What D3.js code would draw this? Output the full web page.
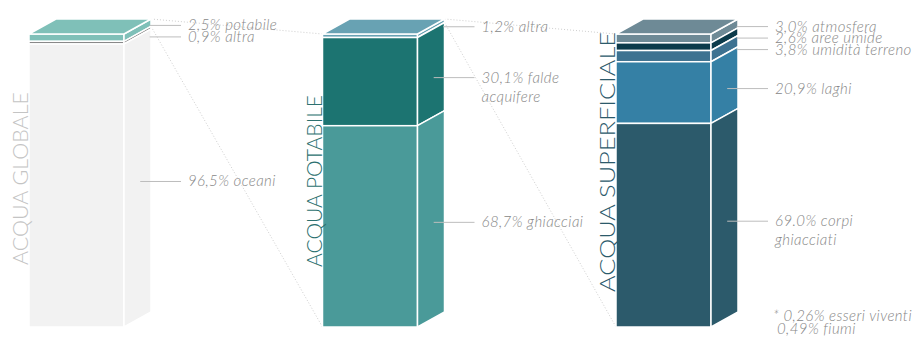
<!DOCTYPE html>
<html lang="it">
<head>
<meta charset="UTF-8">
<title>Acqua</title>
<script src="https://d3js.org/d3.v7.min.js"></script>
<style>
    body { margin: 0; background: #fff; }
    svg { display: block; }
    .label { font-family: "Lato", sans-serif; font-weight: 300; font-style: italic; font-size: 15px; letter-spacing: 0.4px; fill: #878787; }
    .title { font-family: "Lato", sans-serif; font-weight: 300; font-size: 21px; }
</style>
</head>
<body>
<script>
// data
var bars = ['globale', 'potabile', 'superficiale'];
var titles = ['ACQUA GLOBALE', 'ACQUA POTABILE', 'ACQUA SUPERFICIALE'];
var titleColors = ['#c4c4c4', '#2d7170', '#2c5a6b'];

var globaleValues = [2.5, 0.9, 96.5];
var globaleLabels = ['2,5% potabile', '0,9% altra', '96,5% oceani'];
var globaleColors = ['#7fc0b8', '#7f7f7f', '#f2f2f2'];

var potabileValues = [1.2, 30.1, 68.7];
var potabileLabels = ['1,2% altra', '30,1% falde\nacquifere', '68,7% ghiacciai'];
var potabileColors = ['#68a2b3', '#1c7471', '#4a9a99'];

var superficialeValues = [3.0, 2.6, 3.8, 20.9, 69.0];
var superficialeLabels = ['3,0% atmosfera', '2,6% aree umide', '3,8% umidità terreno', '20,9% laghi', '69.0% corpi\nghiacciati'];
var superficialeColors = ['#6e8a96', '#0c3b4b', '#3d7291', '#3580a5', '#2c5a6b'];

var footnote = ['* 0,26% esseri viventi', '0,49% fiumi'];

var series = [
    {values: globaleValues, labels: globaleLabels, colors: globaleColors},
    {values: potabileValues, labels: potabileLabels, colors: potabileColors},
    {values: superficialeValues, labels: superficialeLabels, colors: superficialeColors}
];

// layout
var w = 914, h = 338;
var yTop = 34, yBottom = 327;
var barW = 95, dx = 27, dy = 15;
var titleBottom = [265, 267, 292];
var titleLen = [173, 172, 260];

var svg = d3.select('body').append('svg').attr('width', w).attr('height', h);

var xScale = d3.scalePoint().domain(bars).range([29, 616]);

var gDots = svg.append('g');
var gBars = svg.append('g');
var gLines = svg.append('g');
var gText = svg.append('g');

var stacked = series.map(function(s, bi) {
    var total = d3.sum(s.values);
    var y = d3.scaleLinear().domain([0, total]).range([yTop, yBottom]);
    var acc = 0;
    var x0 = xScale(bars[bi]);
    return s.values.map(function(v, i) {
        var seg = {x0: x0, y0: y(acc), y1: y(acc + v), color: s.colors[i], label: s.labels[i], first: i === 0};
        acc += v;
        return seg;
    });
});

function pts(a) { return a.map(function(p) { return p.join(','); }).join(' '); }

stacked.forEach(function(segs, bi) {
    var g = gBars.append('g');
    segs.forEach(function(s) {
        var x1 = s.x0 + barW;
        g.append('rect')
            .attr('x', s.x0).attr('y', s.y0)
            .attr('width', barW).attr('height', s.y1 - s.y0)
            .attr('fill', s.color).attr('stroke', '#fff').attr('stroke-width', 1.5);
        g.append('polygon')
            .attr('points', pts([[x1, s.y0], [x1 + dx, s.y0 - dy], [x1 + dx, s.y1 - dy], [x1, s.y1]]))
            .attr('fill', s.color).attr('stroke', '#fff').attr('stroke-width', 1.5);
        if (s.first) {
            g.append('polygon')
                .attr('points', pts([[s.x0, s.y0], [s.x0 + dx, s.y0 - dy], [x1 + dx, s.y0 - dy], [x1, s.y0]]))
                .attr('fill', s.color).attr('stroke', '#fff').attr('stroke-width', 1.5);
        }
    });

    // labels with simple collision relax
    var labs = segs.map(function(s) {
        var hh = s.y1 - s.y0;
        var small = hh < 20;
        return {
            ax: s.x0 + barW + dx * (small ? 0.95 : 0.6),
            y: (s.y0 + s.y1) / 2 - (small ? 9 : 4),
            text: s.label
        };
    });
    for (var it = 0; it < 50; it++) {
        for (var i = 1; i < labs.length; i++) {
            var d = labs[i].y - labs[i - 1].y;
            if (d < 11.5) {
                var push = (11.5 - d) / 2;
                labs[i - 1].y -= push;
                labs[i].y += push;
            }
        }
    }
    var tx = segs[0].x0 + barW + 64;
    labs.forEach(function(l) {
        gLines.append('line')
            .attr('x1', l.ax).attr('y1', l.y)
            .attr('x2', tx - 7).attr('y2', l.y)
            .attr('stroke', '#bdbdbd').attr('stroke-width', 1);
        var t = gText.append('text').attr('class', 'label')
            .attr('x', tx).attr('y', l.y + 5);
        l.text.split('\n').forEach(function(line, k) {
            t.append('tspan').attr('x', tx).attr('dy', k === 0 ? 0 : 19).text(line);
        });
    });

    // vertical title
    var bx = segs[0].x0;
    gText.append('text').attr('class', 'title')
        .attr('transform', 'translate(' + (bx - 1) + ',' + titleBottom[bi] + ') rotate(-90)')
        .attr('fill', titleColors[bi])
        .attr('textLength', titleLen[bi])
        .attr('lengthAdjust', 'spacingAndGlyphs')
        .text(titles[bi]);
});

// dotted connectors: first segment of bar i expands into bar i+1
for (var bi = 0; bi < 2; bi++) {
    var s = stacked[bi][0];
    var nx = xScale(bars[bi + 1]);
    var rx = s.x0 + barW + dx;
    [[rx, s.y0 - dy, nx, yTop], [rx, s.y1 - dy, nx, yBottom]].forEach(function(c) {
        gDots.append('line')
            .attr('x1', c[0]).attr('y1', c[1]).attr('x2', c[2]).attr('y2', c[3])
            .attr('stroke', '#cfcfcf').attr('stroke-width', 1)
            .attr('stroke-dasharray', '1,2');
    });
}

// footnote
var fx = xScale('superficiale') + barW + 62;
gText.append('text').attr('class', 'label').attr('x', fx).attr('y', 321).text(footnote[0]);
gText.append('text').attr('class', 'label').attr('x', fx + 4).attr('y', 334).text(footnote[1]);
</script>
</body>
</html>
